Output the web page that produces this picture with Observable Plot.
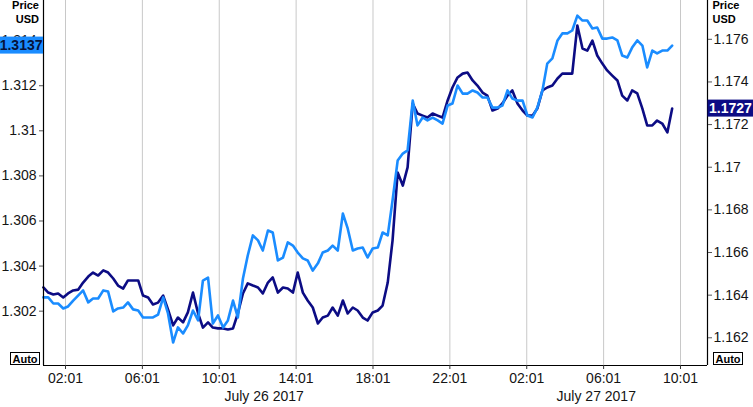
<!DOCTYPE html>
<html><head><meta charset="utf-8">
<script src="https://cdn.jsdelivr.net/npm/d3@7"></script>
<script src="https://cdn.jsdelivr.net/npm/@observablehq/plot@0.6"></script>
<style>
html,body{margin:0;padding:0;background:#fff;}
#chart svg{display:block;}
</style></head><body><div id="chart"></div>
<script>
const times = [
"07-26 00:52","07-26 01:07","07-26 01:23","07-26 01:38","07-26 01:54","07-26 02:09","07-26 02:25","07-26 02:41","07-26 02:56","07-26 03:12",
"07-26 03:27","07-26 03:43","07-26 03:59","07-26 04:14","07-26 04:30","07-26 04:45","07-26 05:01","07-26 05:16","07-26 05:32","07-26 05:48",
"07-26 06:03","07-26 06:19","07-26 06:34","07-26 06:50","07-26 07:06","07-26 07:21","07-26 07:37","07-26 07:52","07-26 08:08","07-26 08:23",
"07-26 08:39","07-26 08:55","07-26 09:10","07-26 09:26","07-26 09:41","07-26 09:57","07-26 10:13","07-26 10:28","07-26 10:44","07-26 10:59",
"07-26 11:15","07-26 11:30","07-26 11:46","07-26 12:02","07-26 12:17","07-26 12:33","07-26 12:48","07-26 13:04","07-26 13:20","07-26 13:35",
"07-26 13:51","07-26 14:06","07-26 14:22","07-26 14:37","07-26 14:53","07-26 15:09","07-26 15:24","07-26 15:40","07-26 15:55","07-26 16:11",
"07-26 16:27","07-26 16:42","07-26 16:58","07-26 17:13","07-26 17:29","07-26 17:44","07-26 18:00","07-26 18:16","07-26 18:31","07-26 18:47",
"07-26 19:02","07-26 19:18","07-26 19:34","07-26 19:49","07-26 20:05","07-26 20:20","07-26 20:36","07-26 20:51","07-26 21:07","07-26 21:23",
"07-26 21:38","07-26 21:54","07-26 22:09","07-26 22:25","07-26 22:41","07-26 22:56","07-26 23:12","07-26 23:27","07-26 23:43","07-26 23:58",
"07-27 00:14","07-27 00:30","07-27 00:45","07-27 01:01","07-27 01:16","07-27 01:32","07-27 01:48","07-27 02:03","07-27 02:19","07-27 02:34",
"07-27 02:50","07-27 03:05","07-27 03:21","07-27 03:37","07-27 03:52","07-27 04:08","07-27 04:23","07-27 04:39","07-27 04:55","07-27 05:10",
"07-27 05:26","07-27 05:41","07-27 05:57","07-27 06:12","07-27 06:28","07-27 06:44","07-27 06:59","07-27 07:15","07-27 07:30","07-27 07:46",
"07-27 08:02","07-27 08:17","07-27 08:33","07-27 08:48","07-27 09:04","07-27 09:20","07-27 09:35"];

// GBP/USD (left axis, light blue)
const gbpusd = [
1.30261,1.30261,1.30234,1.30234,1.30212,1.30221,1.30247,1.30270,1.30292,1.30239,
1.30256,1.30256,1.30292,1.30287,1.30199,1.30212,1.30216,1.30239,1.30208,1.30203,
1.30172,1.30172,1.30172,1.30185,1.30261,1.30190,1.30061,1.30128,1.30101,1.30137,
1.30203,1.30159,1.30336,1.30349,1.30145,1.30181,1.30128,1.30159,1.30247,1.30172,
1.30345,1.30447,1.30536,1.30514,1.30469,1.30558,1.30549,1.30425,1.30438,1.30505,
1.30491,1.30460,1.30434,1.30425,1.30380,1.30412,1.30460,1.30469,1.30491,1.30469,
1.30633,1.30567,1.30469,1.30478,1.30482,1.30438,1.30478,1.30482,1.30549,1.30536,
1.30691,1.30868,1.30899,1.30913,1.31134,1.31024,1.31059,1.31046,1.31059,1.31046,
1.31032,1.31112,1.31121,1.31201,1.31165,1.31165,1.31179,1.31170,1.31148,1.31148,
1.31103,1.31103,1.31112,1.31179,1.31143,1.31134,1.31134,1.31068,1.31059,1.31103,
1.31179,1.31298,1.31321,1.31401,1.31432,1.31432,1.31445,1.31511,1.31489,1.31489,
1.31454,1.31458,1.31409,1.31409,1.31414,1.31401,1.31334,1.31325,1.31369,1.31401,
1.31378,1.31281,1.31356,1.31343,1.31356,1.31356,1.31378];

// EUR/USD (right axis, navy)
const eurusd = [
1.16436,1.16412,1.16403,1.16408,1.16389,1.16408,1.16422,1.16426,1.16459,1.16487,
1.16506,1.16492,1.16516,1.16506,1.16478,1.16445,1.16431,1.16469,1.16469,1.16469,
1.16398,1.16389,1.16356,1.16365,1.16398,1.16333,1.16258,1.16295,1.16272,1.16319,
1.16412,1.16314,1.16248,1.16272,1.16248,1.16244,1.16244,1.16239,1.16244,1.16314,
1.16408,1.16455,1.16445,1.16436,1.16408,1.16459,1.16483,1.16412,1.16436,1.16431,
1.16412,1.16506,1.16412,1.16375,1.16342,1.16267,1.16295,1.16304,1.16342,1.16304,
1.16375,1.16314,1.16342,1.16328,1.16295,1.16281,1.16319,1.16328,1.16351,1.16459,
1.16656,1.16975,1.16914,1.16999,1.17299,1.17252,1.17242,1.17233,1.17252,1.17242,
1.17233,1.17313,1.17374,1.17421,1.17439,1.17444,1.17407,1.17383,1.17350,1.17336,
1.17266,1.17275,1.17299,1.17336,1.17360,1.17299,1.17266,1.17242,1.17242,1.17275,
1.17360,1.17374,1.17383,1.17416,1.17439,1.17439,1.17439,1.17665,1.17557,1.17547,
1.17594,1.17524,1.17486,1.17454,1.17430,1.17407,1.17336,1.17313,1.17360,1.17346,
1.17275,1.17196,1.17196,1.17219,1.17205,1.17163,1.17275];

const leftTicks = [1.302, 1.304, 1.306, 1.308, 1.310, 1.312, 1.314];
const leftTickLabels = ["1.302", "1.304", "1.306", "1.308", "1.31", "1.312", "1.314"];
const rightTicks = [1.162, 1.164, 1.166, 1.168, 1.170, 1.172, 1.174, 1.176];
const rightTickLabels = ["1.162", "1.164", "1.166", "1.168", "1.17", "1.172", "1.174", "1.176"];
const xTickTimes = ["07-26 02:01","07-26 06:01","07-26 10:01","07-26 14:01","07-26 18:01","07-26 22:01","07-27 02:01","07-27 06:01","07-27 10:01"];
const dateLabels = ["July 26 2017", "July 27 2017"];
const dateLabelTimes = ["07-26 12:21", "07-27 05:38"];
const leftDomain = [1.29959, 1.31578];
const rightDomain = [1.16070, 1.17782];
const xDomainTimes = ["07-26 00:52:19", "07-27 11:25:18"];
const leftBadge = "1.3137";
const rightBadge = "1.1727";

const parseT = s => { const [md, hm] = s.split(" "); const p = hm.length === 5 ? hm + ":00" : hm; return new Date(`2017-${md}T${p}Z`); };
const toLeft = v => leftDomain[0] + (v - rightDomain[0]) * (leftDomain[1] - leftDomain[0]) / (rightDomain[1] - rightDomain[0]);

const data = times.map((t, i) => ({date: parseT(t), gbp: gbpusd[i], eur: toLeft(eurusd[i])}));
const xTicks = xTickTimes.map(parseT);
const xDomain = xDomainTimes.map(parseT);
const leftLabelMap = new Map(leftTicks.map((t, i) => [t, leftTickLabels[i]]));
const rightPos = rightTicks.map(toLeft);
const rightLabelMap = new Map(rightPos.map((t, i) => [t, rightTickLabels[i]]));

const FONT = "Liberation Sans, Arial, sans-serif";
const TXT = "#141414";

const plot = Plot.plot({
  width: 753, height: 407,
  marginLeft: 43, marginRight: 46, marginTop: 0, marginBottom: 42,
  style: {fontFamily: FONT, fontSize: "14px", color: TXT, background: "#fff", overflow: "visible"},
  x: {type: "utc", domain: xDomain, label: null},
  y: {domain: leftDomain, label: null},
  marks: [
    Plot.gridX(xTicks, {stroke: "#c8c8c8", strokeOpacity: 1}),
    Plot.line(data, {x: "date", y: "eur", stroke: "#0c0c84", strokeWidth: 2.6}),
    Plot.line(data, {x: "date", y: "gbp", stroke: "#1a8cff", strokeWidth: 2.6}),
    Plot.ruleY([leftDomain[0]], {stroke: "#000", strokeWidth: 1.2}),
    Plot.ruleX([xDomain[0], xDomain[1]], {stroke: "#000", strokeWidth: 1.2}),
    Plot.axisX(xTicks, {tickFormat: d3.utcFormat("%H:%M"), tickSize: 4, tickPadding: 4, stroke: "#333", fontSize: 14, label: null}),
    Plot.axisY(leftTicks, {anchor: "left", tickFormat: d => leftLabelMap.get(d), tickSize: 4, tickPadding: 3, stroke: "#555", fontSize: 14, label: null}),
    Plot.axisY(rightPos, {anchor: "right", tickFormat: d => rightLabelMap.get(d), tickSize: 4, tickPadding: 2, stroke: "#555", fontSize: 14, label: null}),
    Plot.text(dateLabels, {x: (d, i) => parseT(dateLabelTimes[i]), frameAnchor: "bottom", lineAnchor: "top", dy: 26, text: d => d, fontSize: 14, fill: TXT})
  ]
});

const svg = d3.select(plot);
const ys = plot.scale("y");
const yL = ys.apply(gbpusd[gbpusd.length - 1]);
const yR = ys.apply(toLeft(eurusd[eurusd.length - 1]));

function badge(x, w, yc, fill, color, label, anchor, tx) {
  svg.append("rect").attr("x", x).attr("y", yc - 8.5).attr("width", w).attr("height", 17).attr("fill", fill);
  svg.append("text").attr("x", tx).attr("y", yc).attr("dy", "0.36em").attr("text-anchor", anchor)
    .attr("font-family", FONT).attr("font-size", 14).attr("font-weight", "bold").attr("fill", color).text(label);
}
badge(0, 43, yL, "#1a8cff", "#06123a", leftBadge, "end", 42.5);
badge(707.5, 46, yR, "#0c0c84", "#ffffff", rightBadge, "start", 709);

function label(x, y, t, anchor) {
  svg.append("text").attr("x", x).attr("y", y).attr("text-anchor", anchor)
    .attr("font-family", FONT).attr("font-size", 11).attr("font-weight", "bold").attr("fill", "#000").text(t);
}
label(39, 9, "Price", "end"); label(39, 23, "USD", "end");
label(712.5, 9, "Price", "start"); label(712.5, 23, "USD", "start");

function auto(x) {
  svg.append("rect").attr("x", x + 0.5).attr("y", 352.5).attr("width", 29).attr("height", 12)
    .attr("fill", "#fff").attr("stroke", "#000").attr("stroke-width", 1);
  svg.append("text").attr("x", x + 2.5).attr("y", 362.5).attr("text-anchor", "start")
    .attr("font-family", FONT).attr("font-size", 11)
    .attr("font-weight", "bold").attr("fill", "#000").text("Auto");
}
auto(10); auto(713);

document.getElementById("chart").append(plot);
</script>
</body></html>
